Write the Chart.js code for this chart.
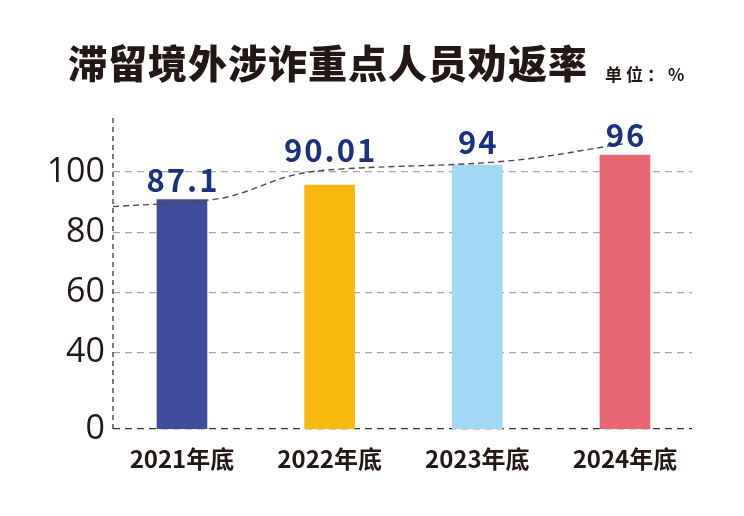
<!DOCTYPE html>
<html lang="zh-CN">
<head>
<meta charset="utf-8">
<title>滞留境外涉诈重点人员劝返率</title>
<script src="https://cdn.jsdelivr.net/npm/chart.js@4.4.1/dist/chart.umd.min.js"></script>
<style>
html, body { margin: 0; padding: 0; background: #fff; }
#wrap { width: 744px; height: 516px; }
</style>
</head>
<body>
<div id="wrap"><canvas id="chart"></canvas></div>
<script>
var years = ["2021年底", "2022年底", "2023年底", "2024年底"];
var rates = [87.1, 90.01, 94, 96];
var barColors = ["#3f4b9b", "#f8b90f", "#a1d8f5", "#e96674"];
var axisTicks = [0, 40, 60, 80, 100];

// dashed trend line drawn over the bars (x in year index)
var trendX = [-0.467, 0.269, 0.754, 1.07, 2.199, 3.012];
var trendY = [85.7, 87.4, 92.0, 93.2, 94.8, 98.35];

var INK = "#231815";
var AXIS_BREAK = 14.7; // the "0" tick sits on a broken axis

var titlePlugin = {
    id: "titleText",
    afterDraw: function (chart) {
        var ctx = chart.ctx;
        ctx.save();
        ctx.fillStyle = INK;
        ctx.textAlign = "left";
        ctx.textBaseline = "middle";
        ctx.font = '900 39px "Noto Sans CJK SC"';
        ctx.letterSpacing = "1px";
        ctx.fillText("滞留境外涉诈重点人员劝返率", 68, 63);
        ctx.font = 'bold 17px "Noto Sans CJK SC"';
        ctx.letterSpacing = "4px";
        ctx.fillText("单位：%", 605, 75);
        ctx.restore();
    }
};

var framePlugin = {
    id: "frame",
    beforeDatasetsDraw: function (chart) {
        var a = chart.chartArea, ctx = chart.ctx;
        ctx.save();
        ctx.strokeStyle = "#333";
        ctx.lineWidth = 1.3;
        ctx.setLineDash([5, 4]);
        ctx.beginPath();
        ctx.moveTo(a.left, a.top);
        ctx.lineTo(a.left, a.bottom);
        ctx.stroke();
        ctx.restore();
    }
};

// y of the trend line at a given pixel x (straight segments between points)
function lineYAt(points, x) {
    for (var i = 1; i < points.length; i++) {
        var a = points[i - 1], b = points[i];
        if (x >= a.x && x <= b.x) {
            return a.y + (b.y - a.y) * (x - a.x) / (b.x - a.x);
        }
    }
    return null;
}

var valuePlugin = {
    id: "values",
    afterDatasetsDraw: function (chart) {
        var ctx = chart.ctx;
        var bars = chart.getDatasetMeta(0).data;
        var pts = chart.getDatasetMeta(1).data;
        var lastX = pts[pts.length - 1].x;
        ctx.save();
        ctx.fillStyle = "#1b3080";
        ctx.font = 'bold 31px "Noto Sans CJK SC"';
        ctx.letterSpacing = "2px";
        ctx.textAlign = "center";
        ctx.textBaseline = "alphabetic";
        bars.forEach(function (bar, i) {
            var y = bar.y - 8;
            // keep the label clear of the trend line where it runs on past it
            if (bar.x + 20 < lastX) {
                var ly = lineYAt(pts, bar.x);
                if (ly !== null) y = Math.min(y, ly - 8);
            }
            ctx.fillText(String(rates[i]), bar.x + 1, y);
        });
        ctx.restore();
    }
};

new Chart(document.getElementById("chart"), {
    type: "bar",
    data: {
        datasets: [
            {
                type: "bar",
                data: rates.map(function (v, i) { return { x: i, y: v }; }),
                backgroundColor: barColors,
                barThickness: 50,
                xAxisID: "x",
                yAxisID: "yBar",
                order: 2
            },
            {
                type: "line",
                data: trendX.map(function (x, i) { return { x: x, y: trendY[i] }; }),
                borderColor: "#4a4a4a",
                borderWidth: 1.4,
                borderDash: [6, 4],
                pointRadius: 0,
                tension: 0.35,
                fill: false,
                xAxisID: "x",
                yAxisID: "yBar",
                order: 1
            }
        ]
    },
    options: {
        responsive: true,
        maintainAspectRatio: false,
        animation: false,
        layout: { padding: { top: 118, right: 52, left: 0, bottom: 0 } },
        plugins: {
            legend: { display: false },
            tooltip: { enabled: false }
        },
        scales: {
            x: {
                type: "linear",
                offset: false,
                min: -0.467,
                max: 3.454,
                afterBuildTicks: function (scale) {
                    scale.ticks = years.map(function (y, i) { return { value: i }; });
                },
                afterFit: function (scale) { scale.height = 87; },
                grid: { display: false, drawTicks: false, offset: false },
                border: { display: false },
                ticks: {
                    padding: 15,
                    color: INK,
                    font: { family: '"Noto Sans CJK SC"', size: 24, weight: "bold" },
                    callback: function (value) { return years[value]; }
                }
            },
            y: {
                type: "linear",
                min: AXIS_BREAK,
                max: 117.9,
                afterBuildTicks: function (scale) {
                    scale.ticks = axisTicks.map(function (v) {
                        return { value: v === 0 ? AXIS_BREAK : v };
                    });
                },
                afterFit: function (scale) { scale.width = 113; },
                grid: {
                    drawTicks: false,
                    lineWidth: 1.3,
                    color: function (ctx) {
                        return ctx.index === 0 ? "#333" : "#a6a6a6";
                    }
                },
                border: { display: false, dash: [7, 5] },
                ticks: {
                    padding: 8,
                    color: INK,
                    font: { family: '"Open Sans"', size: 34 },
                    callback: function (value) {
                        return value === AXIS_BREAK ? "0" : value;
                    }
                }
            },
            yBar: {
                type: "linear",
                display: false,
                min: 41.3,
                max: 103.4
            }
        }
    },
    plugins: [titlePlugin, framePlugin, valuePlugin]
});
</script>
</body>
</html>
